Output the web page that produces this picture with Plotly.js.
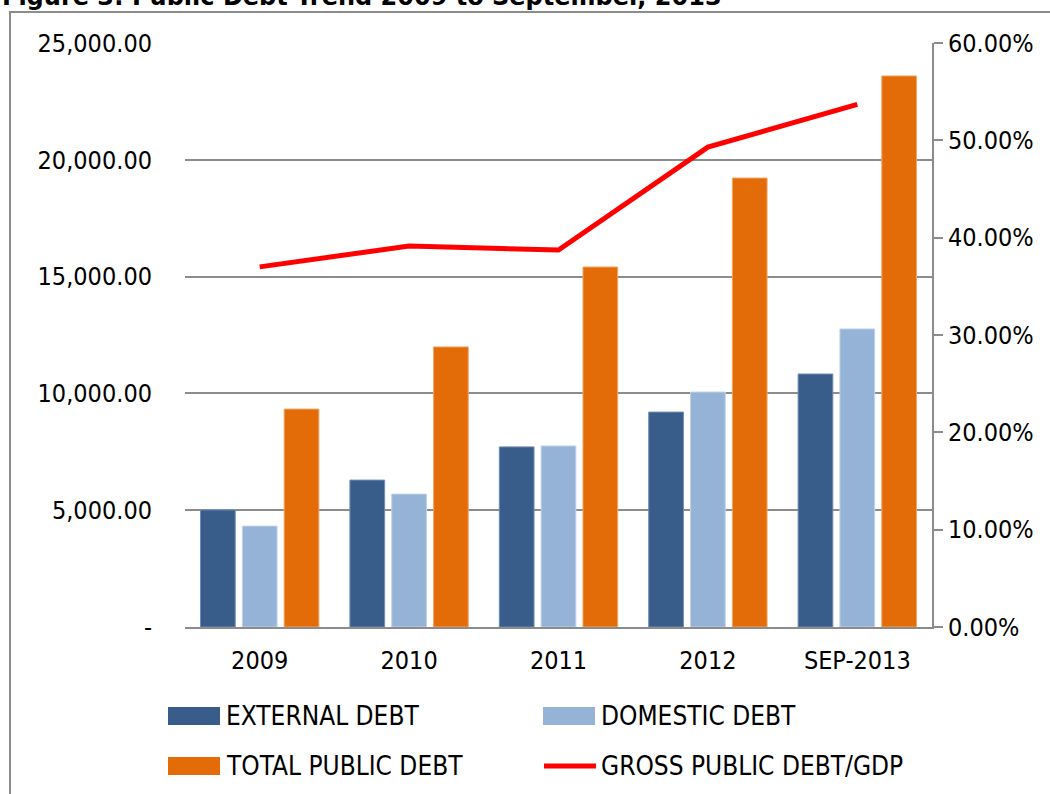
<!DOCTYPE html>
<html>
<head>
<meta charset="utf-8">
<script src="https://cdn.plot.ly/plotly-3.0.1.min.js"></script>
<style>html,body{margin:0;padding:0;background:#fff;}#chart{width:1050px;height:794px;}</style>
</head>
<body>
<div id="chart"></div>
<script>
const categories = ["2009", "2010", "2011", "2012", "SEP-2013"];
const externalDebt = [5010, 6290, 7710, 9200, 10830];
const domesticDebt = [4320, 5690, 7750, 10060, 12760];
const totalDebt = [9330, 11990, 15410, 19220, 23590];
const debtToGdp = [0.370, 0.3914, 0.3873, 0.493, 0.537];
const seriesNames = ["EXTERNAL DEBT", "DOMESTIC DEBT", "TOTAL PUBLIC DEBT", "GROSS PUBLIC DEBT/GDP"];
const leftTickVals = [0, 5000, 10000, 15000, 20000, 25000];
const leftTickText = ["-", "5,000.00", "10,000.00", "15,000.00", "20,000.00", "25,000.00"];
const titleText = "Figure 3: Public Debt Trend 2009 to September, 2013";

const FONT = "DejaVu Sans Condensed, Tahoma, sans-serif";
const FS = 25;
const colors = ["#385d8a", "#95b3d7", "#e36c09", "#ff0000"];
const outlines = ["#6f8db3", "#c0d3ea", "#f2a766"];

const traces = [
  {type: "bar", name: seriesNames[0], x: categories, y: externalDebt,
   marker: {color: colors[0], line: {color: outlines[0], width: 1}}},
  {type: "bar", name: seriesNames[1], x: categories, y: domesticDebt,
   marker: {color: colors[1], line: {color: outlines[1], width: 1}}},
  {type: "bar", name: seriesNames[2], x: categories, y: totalDebt,
   marker: {color: colors[2], line: {color: outlines[2], width: 1}}},
  {type: "scatter", mode: "lines", name: seriesNames[3], x: categories, y: debtToGdp,
   yaxis: "y2", line: {color: colors[3], width: 5}}
];

// plot area in pixels
const PL = 185, PR = 932, PT = 43, PB = 627;
const px = v => (v - PL) / (PR - PL);
const py = v => (PB - v) / (PB - PT);

// custom legend (2 x 2 grid) with wide swatches like the original
const legCols = [168, 543], legRows = [716, 766];
const shapes = [
  {type: "rect", xref: "paper", yref: "paper", x0: px(10), x1: px(1060), y0: py(800), y1: py(12),
   line: {color: "#8c8c8c", width: 2}, fillcolor: "rgba(0,0,0,0)", layer: "below"}
];
const annotations = [
  {text: "<b>" + titleText + "</b>", xref: "paper", yref: "paper", x: px(0), y: py(13),
   xanchor: "left", yanchor: "bottom", showarrow: false,
   font: {family: "DejaVu Sans, Tahoma, sans-serif", size: 24}}
];
seriesNames.forEach((name, i) => {
  const cx = legCols[i % 2], cy = legRows[Math.floor(i / 2)];
  if (i < 3) {
    shapes.push({type: "rect", xref: "paper", yref: "paper",
      x0: px(cx), x1: px(cx + 52), y0: py(cy + 9), y1: py(cy - 9),
      fillcolor: colors[i], line: {width: 0}});
  } else {
    shapes.push({type: "line", xref: "paper", yref: "paper",
      x0: px(cx + 1), x1: px(cx + 53), y0: py(cy), y1: py(cy),
      line: {color: colors[i], width: 5}});
  }
  annotations.push({text: name, xref: "paper", yref: "paper", x: px(cx + 56), y: py(cy),
    xanchor: "left", yanchor: "middle", showarrow: false, font: {family: FONT, size: 26, color: "#000"}});
});

const layout = {
  width: 1050, height: 794,
  margin: {l: PL, r: 1050 - PR, t: PT, b: 794 - PB},
  paper_bgcolor: "#ffffff", plot_bgcolor: "#ffffff",
  font: {family: FONT, size: FS, color: "#000000"},
  showlegend: false,
  barmode: "group", bargap: 0.16, bargroupgap: 0.17,
  xaxis: {
    type: "category", showgrid: false, showline: true, linecolor: "#8c8c8c", linewidth: 2,
    ticks: "", ticklabelstandoff: 10, tickfont: {family: FONT, size: FS}
  },
  yaxis: {
    range: [0, 25000], tickvals: leftTickVals, ticktext: leftTickText,
    showgrid: true, gridcolor: "#8c8c8c", gridwidth: 2, zeroline: false, showline: false,
    ticks: "", ticklabelstandoff: 32, tickfont: {family: FONT, size: FS}
  },
  yaxis2: {
    overlaying: "y", side: "right", range: [0, 0.6], dtick: 0.1, tickformat: ".2%",
    showgrid: false, zeroline: false, showline: true, linecolor: "#8c8c8c", linewidth: 2,
    ticks: "outside", ticklen: 9, tickwidth: 2, tickcolor: "#8c8c8c",
    tickfont: {family: FONT, size: FS}
  },
  shapes: shapes,
  annotations: annotations
};

Plotly.newPlot("chart", traces, layout, {displayModeBar: false});
</script>
</body>
</html>
